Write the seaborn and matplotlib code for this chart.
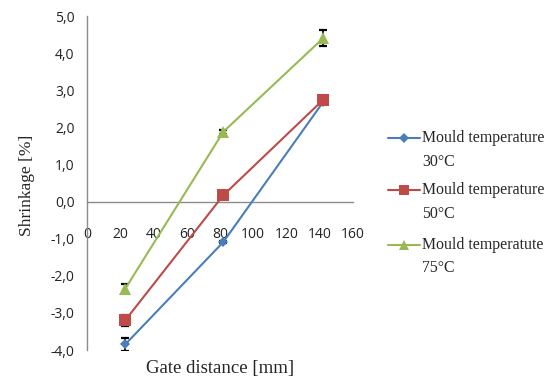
import matplotlib
matplotlib.use("Agg")
import matplotlib.pyplot as plt
import seaborn as sns
import pandas as pd
import numpy as np
from matplotlib.ticker import FuncFormatter
from matplotlib.lines import Line2D

# ---- data ----
gate_distance = [23, 82, 142]
series_names = ["Mould temperature\n30°C", "Mould temperature\n50°C", "Mould temperatute\n75°C"]
shrink_30 = [-3.85, -1.09, 2.68]
shrink_50 = [-3.20, 0.17, 2.74]
shrink_75 = [-2.35, 1.88, 4.40]
err_30 = [0.17, 0.04, 0.06]
err_50 = [0.15, 0.04, 0.10]
err_75 = [0.12, 0.05, 0.21]
x_ticks = [0, 20, 40, 60, 80, 100, 120, 140, 160]
y_ticks = [-4, -3, -2, -1, 0, 1, 2, 3, 4, 5]

colors = ["#4A7EBB", "#BE4B48", "#98B954"]
markers = ["D", "s", "^"]
msizes = [5, 8, 8]

rows = []
for name, vals in zip(series_names, [shrink_30, shrink_50, shrink_75]):
    for x, v in zip(gate_distance, vals):
        rows.append({"Gate": x, "Shrinkage": v, "Series": name})
df = pd.DataFrame(rows)

sns.set_style("white")
W, H = 556, 385
fig = plt.figure(figsize=(5.56, 3.85), dpi=100)
ax = fig.add_axes([87/W, 35/H, 266/W, 334/H])

# error bars (behind markers)
for vals, errs in zip([shrink_30, shrink_50, shrink_75], [err_30, err_50, err_75]):
    ax.errorbar(gate_distance, vals, yerr=errs, fmt="none", ecolor="black",
                elinewidth=1.2, capsize=3, capthick=1.6, zorder=2)

sns.lineplot(data=df, x="Gate", y="Shrinkage", hue="Series", style="Series",
             palette=colors, markers=markers, dashes=False, ax=ax,
             linewidth=1.5, markersize=8, markeredgewidth=0, zorder=3,
             legend=False)
for line, ms in zip(ax.get_lines()[-3:], msizes):
    line.set_markersize(ms)

ax.set_xlim(0, 160)
ax.set_ylim(-4, 5)
ax.set_xticks(x_ticks)
ax.set_yticks(y_ticks)
ax.yaxis.set_major_formatter(FuncFormatter(lambda v, p: f"{v:.1f}".replace(".", ",")))

axis_col = "#8c8c8c"
ax.spines["left"].set_position(("data", 0))
ax.spines["bottom"].set_position(("data", 0))
ax.spines["right"].set_visible(False)
ax.spines["top"].set_visible(False)
for s in ["left", "bottom"]:
    ax.spines[s].set_color(axis_col)
    ax.spines[s].set_linewidth(1.0)
ax.tick_params(axis="both", direction="out", length=4, width=1, color=axis_col,
               labelsize=10, labelcolor="#222222")
ax.tick_params(axis="x", pad=14)
ax.tick_params(axis="y", pad=5)
for lab in ax.get_xticklabels() + ax.get_yticklabels():
    lab.set_family("Open Sans")

ax.set_xlabel("")
ax.set_ylabel("")
fig.text(220/W, 1 - 368/H, "Gate distance [mm]", ha="center", va="center",
         family="Liberation Serif", fontsize=13.5)
fig.text(27/W, 1 - 185/H, "Shrinkage [%]", ha="center", va="center", rotation=90,
         family="Liberation Serif", fontsize=12.5)

# legend (manual, handle aligned with first text line)
row_y = [138, 190, 245]
for name, c, m, ms, y in zip(series_names, colors, markers, [5, 7, 7], row_y):
    fig.add_artist(Line2D([388/W, 420/W], [1 - y/H, 1 - y/H], color=c, linewidth=1.5,
                          transform=fig.transFigure))
    fig.add_artist(Line2D([404/W], [1 - y/H], color=c, marker=m, markersize=ms,
                          markeredgewidth=0, linestyle="none", transform=fig.transFigure))
    first, second = name.split("\n")
    fig.text(422/W, 1 - y/H, first, ha="left", va="center",
             family="Liberation Serif", fontsize=11.4)
    fig.text(422/W, 1 - (y + 23.5)/H, second, ha="left", va="center",
             family="Liberation Serif", fontsize=11.4)

fig.savefig("out.png", dpi=100)
